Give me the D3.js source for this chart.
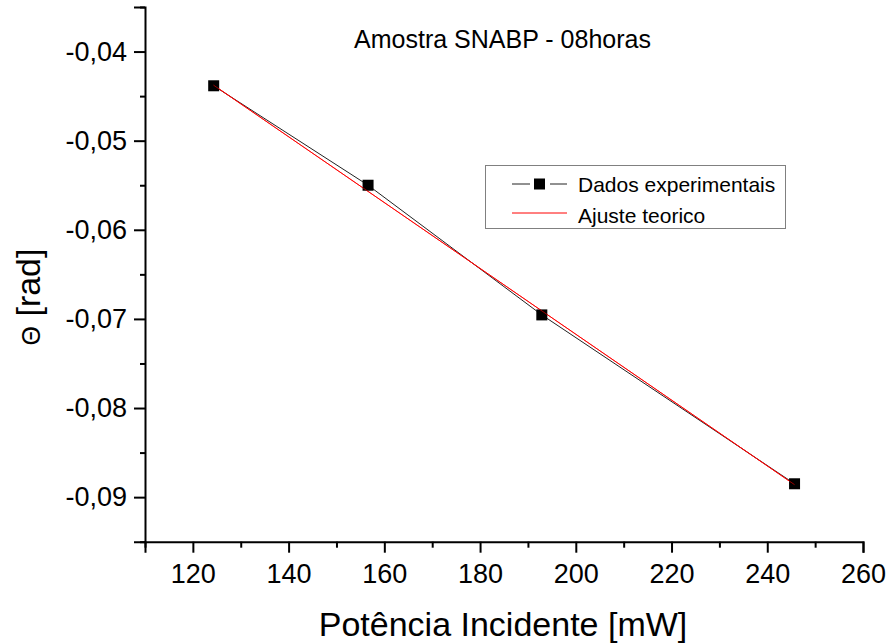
<!DOCTYPE html>
<html>
<head>
<meta charset="utf-8">
<script src="https://cdn.jsdelivr.net/npm/d3@7"></script>
<style>
  html, body { margin: 0; padding: 0; background: #fff; }
  svg { display: block; }
  text { font-family: "Liberation Sans", Arial, sans-serif; fill: #000; }
</style>
</head>
<body>
<svg id="chart" width="889" height="643"></svg>
<script>
// ---- Data ----
const powerMW = [124.35, 156.6, 192.9, 245.7];
const thetaRad = [-0.04384, -0.0550, -0.06955, -0.0885];
const fitPower = [124.3, 245.7];
const fitTheta = [-0.04376, -0.0886];
const xTickValues = [120, 140, 160, 180, 200, 220, 240, 260];
const yTickValues = [-0.04, -0.05, -0.06, -0.07, -0.08, -0.09];
const xMinorTicks = [110, 130, 150, 170, 190, 210, 230, 250];
const yMinorTicks = [-0.035, -0.045, -0.055, -0.065, -0.075, -0.085, -0.095];
const chartTitle = "Amostra SNABP - 08horas";
const xTitle = "Potência Incidente [mW]";
const yTitleSymbol = "Θ";
const yTitleRest = " [rad]";
const legendLabels = ["Dados experimentais", "Ajuste teorico"];

// ---- Layout ----
const svg = d3.select("#chart");
const x = d3.scaleLinear().domain([110, 260]).range([145, 863]);
const y = d3.scaleLinear().domain([-0.095, -0.035]).range([541.7, 7]);
const fmt = v => (v < 0 ? "-" : "") + d3.format(".2f")(Math.abs(v)).replace(".", ",");

// X axis
const gx = svg.append("g").attr("transform", `translate(0,${y.range()[0]})`);
gx.call(d3.axisBottom(x).tickValues(xTickValues).tickSize(11).tickPadding(11).tickFormat(d3.format("d")));
gx.append("g").call(d3.axisBottom(x).tickValues(xMinorTicks).tickSize(6).tickFormat(""))
  .select(".domain").remove();
gx.selectAll("text").attr("font-size", 27).attr("font-family", "Liberation Sans, Arial, sans-serif").attr("fill", "#000");

// Y axis
const gy = svg.append("g").attr("transform", `translate(${x.range()[0]},0)`);
gy.call(d3.axisLeft(y).tickValues(yTickValues).tickSize(11).tickPadding(7).tickFormat(fmt));
gy.append("g").call(d3.axisLeft(y).tickValues(yMinorTicks).tickSize(5).tickFormat(""))
  .select(".domain").remove();
gy.selectAll("text").attr("font-size", 27).attr("font-family", "Liberation Sans, Arial, sans-serif").attr("fill", "#000");

svg.selectAll(".domain").attr("stroke", "#000").attr("stroke-width", 2);
svg.selectAll(".tick line").attr("stroke", "#000").attr("stroke-width", 2);

// ---- Data series ----
const pts = powerMW.map((p, i) => [p, thetaRad[i]]);
const line = d3.line().x(d => x(d[0])).y(d => y(d[1]));
svg.append("path").datum(pts).attr("d", line)
  .attr("fill", "none").attr("stroke", "#222").attr("stroke-width", 1);

const fitPts = fitPower.map((p, i) => [p, fitTheta[i]]);
svg.append("path").datum(fitPts).attr("d", line)
  .attr("fill", "none").attr("stroke", "#ff0000").attr("stroke-width", 1);

const sq = 11;
svg.selectAll("rect.pt").data(pts).enter().append("rect")
  .attr("class", "pt")
  .attr("x", d => x(d[0]) - sq / 2).attr("y", d => y(d[1]) - sq / 2)
  .attr("width", sq).attr("height", sq).attr("fill", "#000");

svg.append("path").datum(fitPts).attr("d", line)
  .attr("fill", "none").attr("stroke", "#ff0000").attr("stroke-width", 1).attr("opacity", 0.6);

// ---- Titles ----
svg.append("text").attr("x", 502.5).attr("y", 48).attr("text-anchor", "middle")
  .attr("font-size", 25).text(chartTitle);
svg.append("text").attr("x", 503).attr("y", 636).attr("text-anchor", "middle")
  .attr("font-size", 34).text(xTitle);
const yt = svg.append("text").attr("transform", "translate(40,297) rotate(-90)").attr("text-anchor", "middle")
  .attr("font-size", 34);
yt.append("tspan").attr("font-size", 25).text(yTitleSymbol);
yt.append("tspan").text(yTitleRest);

// ---- Legend ----
const lg = svg.append("g");
lg.append("rect").attr("x", 485.5).attr("y", 165.5).attr("width", 300).attr("height", 63)
  .attr("fill", "#fff").attr("stroke", "#808080").attr("stroke-width", 1);
lg.append("line").attr("x1", 512).attr("x2", 530).attr("y1", 184).attr("y2", 184)
  .attr("stroke", "#222").attr("stroke-width", 1);
lg.append("line").attr("x1", 550).attr("x2", 567).attr("y1", 184).attr("y2", 184)
  .attr("stroke", "#222").attr("stroke-width", 1);
lg.append("rect").attr("x", 539.5 - sq / 2).attr("y", 184 - sq / 2).attr("width", sq).attr("height", sq).attr("fill", "#000");
lg.append("line").attr("x1", 512).attr("x2", 567).attr("y1", 213).attr("y2", 213)
  .attr("stroke", "#ff0000").attr("stroke-width", 1);
lg.append("text").attr("x", 578).attr("y", 192).attr("font-size", 21).text(legendLabels[0]);
lg.append("text").attr("x", 578).attr("y", 223).attr("font-size", 21).text(legendLabels[1]);
</script>
</body>
</html>
